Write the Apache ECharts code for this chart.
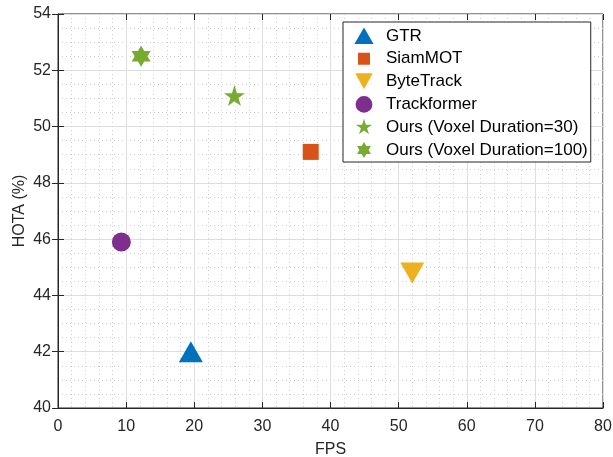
<!DOCTYPE html>
<html>
<head>
<meta charset="utf-8">
<script src="https://cdn.jsdelivr.net/npm/echarts@6/dist/echarts.min.js"></script>
<style>html,body{margin:0;padding:0;background:#fff}#c{width:613px;height:457px}</style>
</head>
<body>
<div id="c"></div>
<script>
const seriesNames = ['GTR', 'SiamMOT', 'ByteTrack', 'Trackformer', 'Ours (Voxel Duration=30)', 'Ours (Voxel Duration=100)'];
const fpsValues = [19.5, 37.1, 52.0, 9.3, 25.9, 12.2];
const hotaValues = [42.0, 49.1, 44.8, 45.9, 51.1, 52.5];
const xTicks = [0, 10, 20, 30, 40, 50, 60, 70, 80];
const yTicks = [40, 42, 44, 46, 48, 50, 52, 54];

const colors = ['#0072BD', '#D95319', '#EDB120', '#7E2F8E', '#77AC30', '#77AC30'];
const symbols = [
  'path://M50,0L100,86.6L0,86.6Z',
  'path://M0,0H100V100H0Z',
  'path://M0,0L100,0L50,86.6Z',
  'circle',
  'path://M50,0L61.23,34.55L97.55,34.55L68.16,55.9L79.39,90.45L50,69.1L20.61,90.45L31.84,55.9L2.45,34.55L38.77,34.55Z',
  'path://M50,0L64.43,25L93.3,25L78.87,50L93.3,75L64.43,75L50,100L35.57,75L6.7,75L21.13,50L6.7,25L35.57,25Z'
];
const sizes = [[24, 21], 16, [24, 21], 19, 21, [19, 21]];

// legend icons: framed in a 0..100 box (degenerate corner segments set the frame)
const frame = 'M0,0L0.01,0M100,100L99.99,100';
const legendIcons = [
  'path://M50,7L98,90L2,90Z' + frame,
  'path://M20,20H80V80H20Z' + frame,
  'path://M6,8L94,8L50,88Z' + frame,
  'path://M50,8A42,42 0 1,1 49.99,8Z' + frame,
  'path://M50,8L59.5,37.4L90.4,37.4L65.4,55.5L75,84.9L50,66.7L25,84.9L34.6,55.5L9.6,37.4L40.5,37.4Z' + frame,
  'path://M50,10L61.5,30L84.6,30L73.1,50L84.6,70L61.5,70L50,90L38.5,70L15.4,70L26.9,50L15.4,30L38.5,30Z' + frame
];

const series = seriesNames.map((n, i) => ({
  name: n,
  type: 'scatter',
  symbol: symbols[i],
  symbolSize: sizes[i],
  itemStyle: { color: colors[i], opacity: 1 },
  data: [[fpsValues[i], hotaValues[i]]],
  z: 5
}));

const axisColor = '#262626';
const font = 'Liberation Sans, Arial, sans-serif';
const chart = echarts.init(document.getElementById('c'));
chart.setOption({
  animation: false,
  backgroundColor: '#fff',
  grid: {
    left: 58, right: 10, top: 14, bottom: 49,
    containLabel: false, outerBoundsMode: 'none',
    show: true, borderColor: axisColor, borderWidth: 1, backgroundColor: 'transparent'
  },
  legend: {
    orient: 'vertical',
    left: 343, top: 22,
    padding: [4, 3, 2, 11],
    itemWidth: 24, itemHeight: 20, itemGap: 2.8,
    backgroundColor: '#fff',
    borderColor: axisColor, borderWidth: 1, borderRadius: 0,
    textStyle: { fontFamily: font, fontSize: 17, color: '#000', padding: [0, 0, 0, 5] },
    data: seriesNames.map((n, i) => ({ name: n, icon: legendIcons[i] }))
  },
  xAxis: [{
    type: 'value', min: xTicks[0], max: xTicks[xTicks.length - 1], interval: 10,
    name: 'FPS', nameLocation: 'middle', nameGap: 34, nameMoveOverlap: false,
    nameTextStyle: { fontFamily: font, fontSize: 16, color: axisColor },
    axisLine: { show: true, lineStyle: { color: axisColor } },
    axisTick: { show: true, inside: true, length: 6, lineStyle: { color: axisColor } },
    axisLabel: { fontFamily: font, fontSize: 16, color: axisColor, margin: 11 },
    splitLine: { show: true, lineStyle: { color: '#dedede', width: 1 } },
    minorTick: { show: false, splitNumber: 5 },
    minorSplitLine: { show: true, lineStyle: { color: '#d0d0d0', type: [1, 3], width: 1 } }
  }, {
    type: 'value', position: 'top', min: 0, max: 80, interval: 10,
    axisLine: { show: false }, axisLabel: { show: false }, splitLine: { show: false },
    axisTick: { show: true, inside: true, length: 6, lineStyle: { color: axisColor } }
  }],
  yAxis: [{
    type: 'value', min: yTicks[0], max: yTicks[yTicks.length - 1], interval: 2,
    name: 'HOTA (%)', nameLocation: 'middle', nameGap: 30, nameMoveOverlap: false,
    nameTextStyle: { fontFamily: font, fontSize: 16, color: axisColor },
    axisLine: { show: true, lineStyle: { color: axisColor } },
    axisTick: { show: true, inside: true, length: 6, lineStyle: { color: axisColor } },
    axisLabel: { fontFamily: font, fontSize: 16, color: axisColor, margin: 7 },
    splitLine: { show: true, lineStyle: { color: '#dedede', width: 1 } },
    minorTick: { show: false, splitNumber: 4 },
    minorSplitLine: { show: true, lineStyle: { color: '#d0d0d0', type: [1, 3], width: 1 } }
  }, {
    type: 'value', position: 'right', min: 40, max: 54, interval: 2,
    axisLine: { show: false }, axisLabel: { show: false }, splitLine: { show: false },
    axisTick: { show: true, inside: true, length: 6, lineStyle: { color: axisColor } }
  }],
  series: series
});
</script>
</body>
</html>
